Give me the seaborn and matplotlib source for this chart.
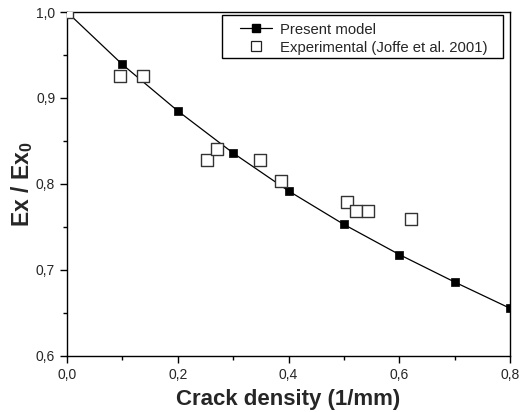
import matplotlib
matplotlib.use("Agg")
import matplotlib.pyplot as plt
import seaborn as sns
import pandas as pd
from matplotlib.ticker import MultipleLocator, FuncFormatter
from matplotlib.lines import Line2D
from matplotlib.patches import Rectangle

# Data
model_x = [0.0, 0.1, 0.2, 0.3, 0.4, 0.5, 0.6, 0.7, 0.8]
model_y = [1.0, 0.939, 0.885, 0.836, 0.792, 0.753, 0.718, 0.686, 0.6555]
exp_x = [0.0, 0.096, 0.137, 0.252, 0.271, 0.348, 0.386, 0.505, 0.522, 0.543, 0.622]
exp_y = [1.0, 0.926, 0.926, 0.828, 0.841, 0.828, 0.803, 0.779, 0.769, 0.769, 0.759]
legend_labels = ["Present model", "Experimental (Joffe et al. 2001)"]

model_df = pd.DataFrame({"x": model_x, "y": model_y})
exp_df = pd.DataFrame({"x": exp_x, "y": exp_y})

sns.set_style("ticks")
plt.rcParams["font.family"] = ["Liberation Sans", "DejaVu Sans"]
plt.rcParams["mathtext.fontset"] = "custom"
plt.rcParams["mathtext.rm"] = "Liberation Sans"
plt.rcParams["mathtext.bf"] = "Liberation Sans:bold"

W, H = 520, 412
fig = plt.figure(figsize=(5.2, 4.12), dpi=100)
ax = fig.add_axes([67 / W, 1 - 356 / H, (510 - 67) / W, (356 - 12) / H])

sns.lineplot(data=model_df, x="x", y="y", ax=ax, color="black", lw=0.9,
             marker=None, sort=False, zorder=2)
sns.scatterplot(data=model_df.iloc[1:], x="x", y="y", ax=ax, marker="s", s=30,
                color="black", edgecolor="black", linewidth=0.5, zorder=3)
sns.scatterplot(data=exp_df, x="x", y="y", ax=ax, marker="s", s=75,
                facecolor="white", edgecolor="#333333", linewidth=1.0, zorder=4)

ax.set_xlim(0, 0.8)
ax.set_ylim(0.6, 1.0)
ax.xaxis.set_major_locator(MultipleLocator(0.2))
ax.xaxis.set_minor_locator(MultipleLocator(0.1))
ax.yaxis.set_major_locator(MultipleLocator(0.1))
ax.yaxis.set_minor_locator(MultipleLocator(0.05))
fmt = FuncFormatter(lambda v, p: f"{v:.1f}".replace(".", ","))
ax.xaxis.set_major_formatter(fmt)
ax.yaxis.set_major_formatter(fmt)
ax.tick_params(which="major", direction="out", length=5, width=1, labelsize=10, color="black")
ax.tick_params(which="minor", direction="out", length=3, width=1, color="black")

for s in ax.spines.values():
    s.set_visible(True)
    s.set_color("black")
    s.set_linewidth(1.0)

ax.set_xlabel("Crack density (1/mm)", fontsize=16, fontweight="bold", labelpad=5)
ax.set_ylabel(r"Ex / Ex$_\mathbf{0}$", fontsize=16.5, fontweight="bold", labelpad=1)

handles = [
    Line2D([], [], color="black", lw=0.9, marker="s", markersize=5.5,
           markerfacecolor="black", markeredgecolor="black"),
    Line2D([], [], color="none", marker="s", markersize=7,
           markerfacecolor="white", markeredgecolor="#222222", markeredgewidth=0.9),
]
leg = fig.legend(handles, legend_labels, loc="upper left",
                 bbox_to_anchor=(240 / W, 1 - 22.5 / H), fontsize=10.7,
                 frameon=False, borderpad=0, handlelength=2.15,
                 handletextpad=0.54, labelspacing=0.27, borderaxespad=0)

fig.add_artist(Rectangle((222 / W, 1 - 58 / H), (503 - 222) / W, (58 - 15) / H,
                         transform=fig.transFigure, facecolor="white",
                         edgecolor="black", linewidth=1.0, zorder=5))
leg.set_zorder(6)

fig.savefig("out.png", dpi=100)
